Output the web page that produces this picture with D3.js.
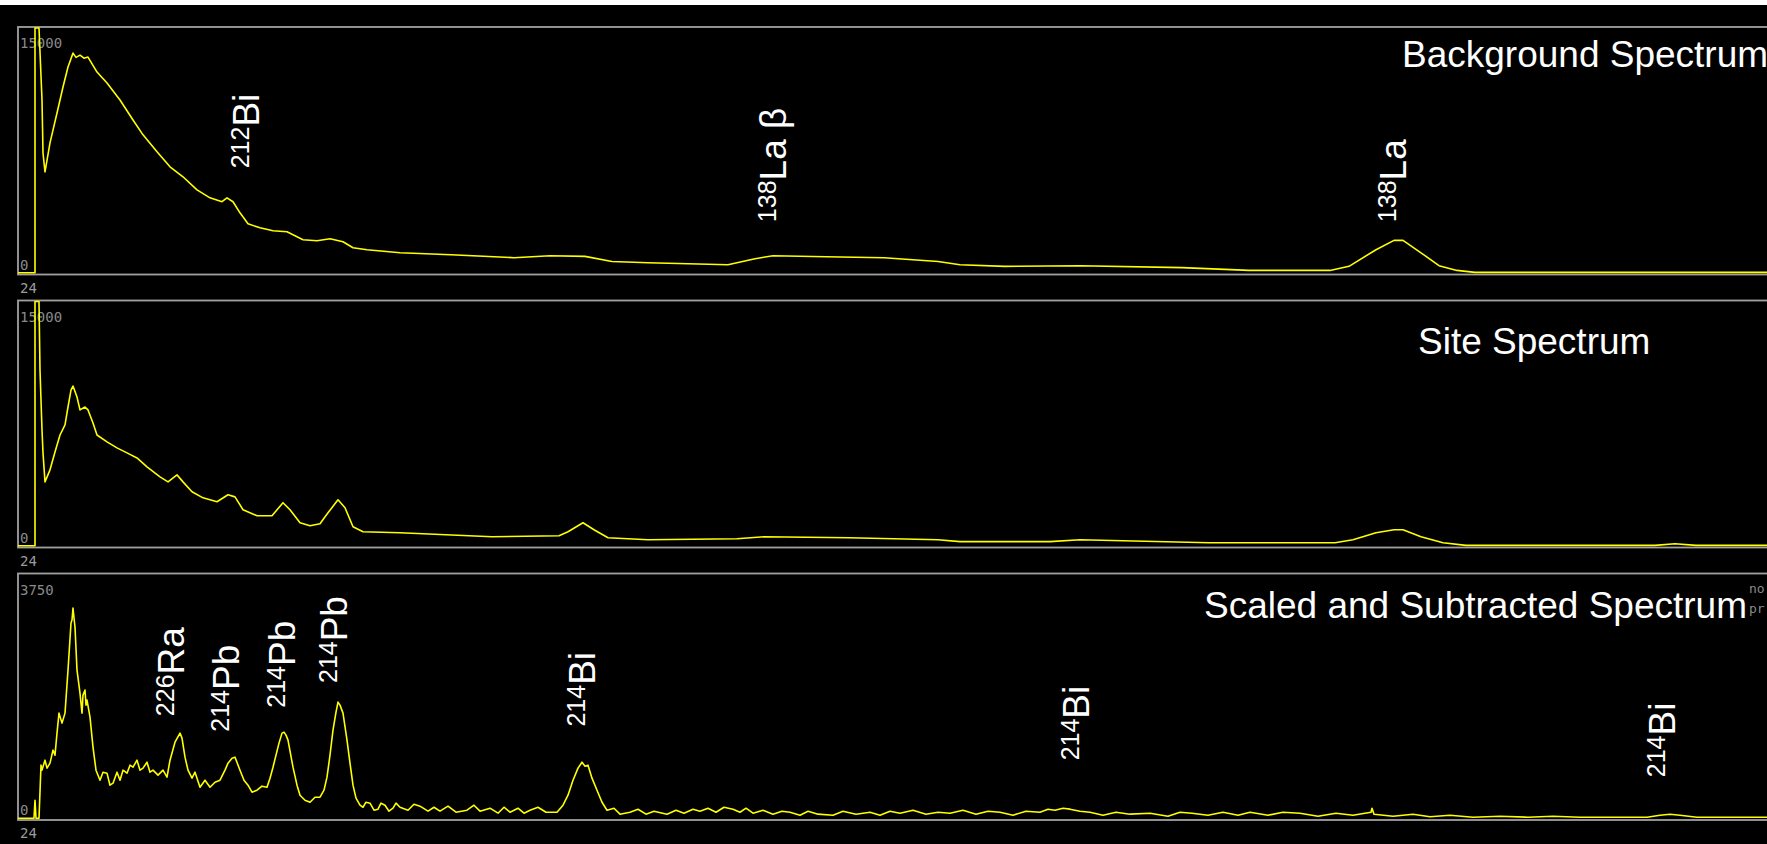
<!DOCTYPE html>
<html>
<head>
<meta charset="utf-8">
<script src="https://cdn.jsdelivr.net/npm/d3@7"></script>
<style>
  html, body { margin: 0; padding: 0; background: #000; overflow: hidden; }
  svg { display: block; }
</style>
</head>
<body>
<script>
'use strict';

// Spectra: [channel, counts]
var backgroundSpectrum = [
  [0, 0], [17, 0], [17, 30000], [21, 30000], [24, 10590], [25, 7340], [27, 6180],
  [32, 7960], [39, 9790], [45, 11380], [50, 12610], [55, 13460], [58, 13200], [62, 13340],
  [66, 13150], [70, 13220], [79, 12300], [89, 11630], [102, 10590], [115, 9360],
  [125, 8450], [139, 7410], [152, 6490], [165, 5880], [179, 5080], [192, 4590],
  [204, 4350], [209, 4590], [215, 4350], [222, 3670], [230, 3000], [242, 2750],
  [255, 2570], [269, 2510], [275, 2330], [285, 2020], [299, 1960], [312, 2080],
  [325, 1900], [335, 1530], [349, 1410], [382, 1220], [433, 1100], [496, 920],
  [532, 1040], [567, 1000], [594, 690], [630, 610], [710, 490], [737, 860],
  [755, 1040], [808, 980], [866, 920], [920, 690], [942, 490], [987, 390],
  [1062, 430], [1164, 310], [1231, 140], [1312, 140], [1331, 390], [1358, 1410],
  [1376, 1980], [1385, 1980], [1403, 1220], [1421, 430], [1439, 140], [1457, 20],
  [1760, 20]
];

var siteSpectrum = [
  [0, 0], [17, 0], [17, 30000], [21, 30000], [22, 10790], [24, 7110], [25, 5700],
  [27, 3920], [32, 4660], [37, 5760], [42, 6800], [47, 7420], [50, 8520], [53, 9560],
  [55, 9810], [59, 9130], [62, 8340], [67, 8520], [70, 8340], [75, 7540], [79, 6800],
  [89, 6380], [99, 6010], [109, 5700], [119, 5390], [129, 4840], [142, 4230],
  [150, 3920], [159, 4350], [165, 3920], [174, 3310], [185, 2940], [199, 2700],
  [210, 3130], [217, 3000], [225, 2210], [239, 1840], [254, 1840], [265, 2640],
  [272, 2210], [282, 1410], [292, 1230], [302, 1350], [310, 2020], [320, 2820],
  [327, 2330], [335, 1160], [345, 860], [382, 800], [474, 550], [541, 610],
  [550, 860], [565, 1410], [576, 980], [590, 490], [630, 370], [719, 430],
  [746, 550], [831, 490], [920, 370], [942, 250], [1032, 250], [1062, 370],
  [1191, 180], [1317, 180], [1335, 370], [1358, 800], [1376, 980], [1385, 980],
  [1403, 550], [1425, 180], [1448, 20], [1637, 20], [1657, 120], [1678, 20],
  [1760, 20]
];

var subtractedSpectrum = [
  [0, 0], [16, 0], [17, 277], [18, 0], [21, 0], [23, 816], [24, 740], [27, 893],
  [29, 770], [32, 847], [35, 1047], [37, 970], [39, 1309], [41, 1617], [44, 1463],
  [47, 1617], [50, 2279], [53, 3003], [54, 3050], [55, 3234], [56, 3080], [57, 2941],
  [59, 2279], [62, 1925], [64, 1617], [65, 1894], [67, 1971], [68, 1740], [69, 1817],
  [72, 1555], [75, 1093], [78, 739], [82, 585], [85, 708], [89, 693], [92, 508],
  [95, 539], [99, 708], [102, 585], [105, 739], [109, 693], [112, 816], [115, 785],
  [119, 893], [122, 739], [125, 770], [129, 862], [132, 708], [135, 739], [140, 662],
  [145, 739], [149, 631], [152, 893], [157, 1170], [162, 1309], [164, 1232],
  [167, 939], [170, 739], [174, 616], [177, 708], [182, 477], [187, 585], [192, 477],
  [197, 554], [202, 585], [207, 739], [210, 847], [214, 924], [217, 939], [222, 739],
  [226, 585], [230, 508], [234, 400], [239, 431], [244, 493], [249, 477], [252, 616],
  [255, 785], [261, 1155], [264, 1309], [266, 1324], [268, 1278], [270, 1201],
  [275, 785], [279, 508], [282, 354], [287, 277], [292, 246], [297, 323], [302, 323],
  [306, 431], [309, 631], [312, 970], [315, 1355], [318, 1632], [320, 1786],
  [322, 1740], [325, 1617], [329, 1201], [332, 847], [335, 508], [338, 308],
  [342, 200], [345, 169], [348, 246], [352, 231], [356, 123], [360, 139], [363, 231],
  [367, 200], [371, 108], [375, 154], [378, 231], [382, 169], [390, 123], [396, 215],
  [402, 185], [410, 108], [416, 169], [422, 108], [430, 185], [438, 92], [449, 123],
  [456, 200], [462, 108], [472, 154], [480, 77], [486, 169], [492, 92], [500, 154],
  [506, 77], [512, 123], [520, 169], [528, 92], [539, 92],
  [545, 200], [550, 354], [555, 585], [560, 770], [564, 862], [567, 800], [570, 816],
  [574, 616], [579, 431], [584, 246], [589, 123], [596, 154], [602, 62], [612, 92],
  [620, 138], [628, 62], [636, 108], [649, 62], [658, 123], [666, 77], [675, 138],
  [682, 108], [690, 154], [698, 92], [706, 169], [715, 139], [722, 92], [728, 154],
  [735, 77], [745, 123], [755, 62], [764, 108], [772, 92], [782, 46], [790, 108],
  [800, 62], [815, 46], [825, 108], [838, 62], [852, 92], [862, 46], [872, 108],
  [882, 77], [895, 123], [908, 62], [920, 92], [932, 77], [945, 123], [958, 62],
  [970, 108], [982, 92], [995, 46], [1008, 108], [1022, 92], [1030, 138], [1037, 123],
  [1045, 154], [1052, 139], [1062, 108], [1072, 92], [1085, 46], [1098, 92],
  [1112, 62], [1132, 77], [1150, 31], [1162, 92], [1174, 77], [1190, 46], [1205, 92],
  [1220, 46], [1232, 92], [1250, 46], [1265, 92], [1282, 77], [1300, 31], [1318, 77],
  [1335, 46], [1353, 92], [1354, 154], [1356, 62], [1375, 31], [1395, 62],
  [1412, 23], [1432, 46], [1455, 15], [1482, 31], [1510, 15], [1535, 31], [1562, 15],
  [1595, 15], [1629, 15], [1642, 46], [1652, 62], [1662, 46], [1679, 15], [1720, 15],
  [1760, 15]
];

var panelTitles = ['Background Spectrum', 'Site Spectrum', 'Scaled and Subtracted Spectrum'];
var yMaxLabels = [15000, 15000, 3750];
var startChannelLabel = '24';

// peak labels: mass number, element, channel, counts where the rotated label starts
var backgroundPeaks = [
  {mass: '212', el: 'Bi', ch: 241, at: 6400},
  {mass: '138', el: 'La \u03b2', ch: 768, at: 3100},
  {mass: '138', el: 'La', ch: 1388, at: 3100}
];
var sitePeaks = [];
var subtractedPeaks = [
  {mass: '226', el: 'Ra', ch: 166, at: 1570},
  {mass: '214', el: 'Pb', ch: 221, at: 1330},
  {mass: '214', el: 'Pb', ch: 277, at: 1700},
  {mass: '214', el: 'Pb', ch: 329, at: 2080},
  {mass: '214', el: 'Bi', ch: 577, at: 1410},
  {mass: '214', el: 'Bi', ch: 1071, at: 890},
  {mass: '214', el: 'Bi', ch: 1657, at: 630}
];

var width = 1767, height = 844;

var svg = d3.select('body').append('svg')
  .attr('width', width)
  .attr('height', height)

svg.append('rect').attr('width', width).attr('height', height).attr('fill', '#000')
svg.append('rect').attr('width', width).attr('height', 5).attr('fill', '#fff')

var x = d3.scaleLinear().domain([0, 1760]).range([18, 1778])

var panels = [
  {data: backgroundSpectrum, peaks: backgroundPeaks, top: 27, bottom: 274.5, titleX: 1402, titleY: 67},
  {data: siteSpectrum, peaks: sitePeaks, top: 300.5, bottom: 547.5, titleX: 1418, titleY: 354},
  {data: subtractedSpectrum, peaks: subtractedPeaks, top: 573.5, bottom: 820, titleX: 1204, titleY: 618}
]

var mono = "'DejaVu Sans Mono', monospace"
var sans = "'Liberation Sans', Arial, sans-serif"

panels.forEach(function(p, i) {
  var g = svg.append('g')
  var y = d3.scaleLinear()
      .domain([0, yMaxLabels[i]])
      .range([p.bottom - 1.8, p.top + 1])
      .clamp(true)

  g.append('clipPath').attr('id', 'clip' + i)
    .append('rect')
      .attr('x', 18).attr('y', p.top)
      .attr('width', 1780).attr('height', p.bottom - p.top)

  // frame
  g.append('rect')
      .attr('x', 18).attr('y', p.top)
      .attr('width', 1800).attr('height', p.bottom - p.top)
      .attr('fill', 'none')
      .attr('stroke', '#a0a0a0')
      .attr('stroke-width', 1.8)

  // axis labels
  g.append('text')
      .attr('x', 20).attr('y', y(yMaxLabels[i]) + 20)
      .attr('font-family', mono).attr('font-size', '14px')
      .attr('fill', '#8a8a8a')
      .text(yMaxLabels[i])
  g.append('text')
      .attr('x', 20).attr('y', y(0) - 3)
      .attr('font-family', mono).attr('font-size', '14px')
      .attr('fill', '#8a8a8a')
      .text('0')
  g.append('text')
      .attr('x', 20).attr('y', p.bottom + 18)
      .attr('font-family', mono).attr('font-size', '14px')
      .attr('fill', '#9a9a9a')
      .text(startChannelLabel)

  var line = d3.line()
      .x(function(d) { return x(d[0]); })
      .y(function(d) { return y(d[1]); })

  g.append('path')
      .datum(p.data)
      .attr('clip-path', 'url(#clip' + i + ')')
      .attr('fill', 'none')
      .attr('stroke', '#ffff00')
      .attr('stroke-linejoin', 'round')
      .attr('stroke-width', 1.6)
      .attr('d', line)

  g.append('text')
      .attr('x', p.titleX).attr('y', p.titleY)
      .attr('font-family', sans).attr('font-size', '37px')
      .attr('fill', '#fff')
      .text(panelTitles[i])

  // rotated isotope labels
  p.peaks.forEach(function(pk) {
    var t = g.append('text')
        .attr('transform', 'translate(' + x(pk.ch) + ',' + y(pk.at) + ') rotate(-90)')
        .attr('font-family', sans)
        .attr('fill', '#fff')
    t.append('tspan').attr('font-size', '25px').attr('dy', -10).text(pk.mass)
    t.append('tspan').attr('font-size', '37px').attr('dy', 10).text(pk.el)
  })
})

// side notes on the last panel
svg.append('text').attr('x', 1749).attr('y', 593)
  .attr('font-family', mono).attr('font-size', '13px').attr('fill', '#8a8a8a').text('no')
svg.append('text').attr('x', 1749).attr('y', 613)
  .attr('font-family', mono).attr('font-size', '13px').attr('fill', '#8a8a8a').text('pr')
</script>
</body>
</html>
